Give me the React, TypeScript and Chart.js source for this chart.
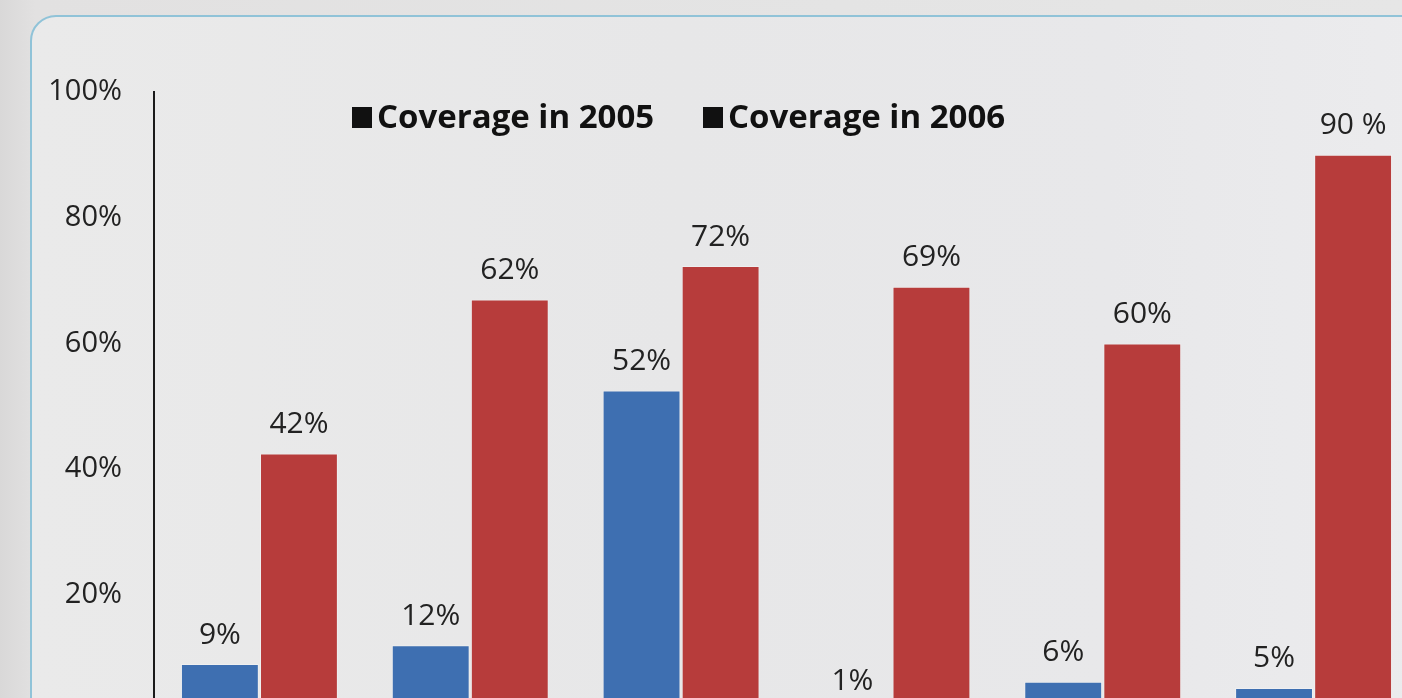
import React, { useEffect, useRef } from "react";
import { Chart, registerables } from "chart.js";

Chart.register(...registerables);

const categories = ["A", "B", "C", "D", "E", "F"];
const seriesNames = ["Coverage in 2005", "Coverage in 2006"];
const values2005 = [9, 12, 52.5, 1, 6.2, 5.2];
const values2006 = [42.5, 67, 72.3, 69, 60, 90];
const labels2005 = ["9%", "12%", "52%", "1%", "6%", "5%"];
const labels2006 = ["42%", "62%", "72%", "69%", "60%", "90 %"];
const yTicks = [0, 20, 40, 60, 80, 100];

const BLUE = "#3e6fb1";
const RED = "#b73c3b";
const TEXT = "#222222";

const legendPlugin = {
  id: "customLegend",
  afterDraw(chart: any) {
    const ctx = chart.ctx;
    ctx.save();
    ctx.font = "bold 33px 'Open Sans'";
    ctx.fillStyle = "#111111";
    ctx.textBaseline = "alphabetic";
    ctx.textAlign = "left";
    const starts = [352, 703];
    seriesNames.forEach((name, i) => {
      const x = starts[i];
      ctx.fillRect(x, 107, 20, 21);
      ctx.fillText(name, x + 25, 128);
    });
    ctx.restore();
  },
};

const valueLabelPlugin = {
  id: "valueLabels",
  afterDatasetsDraw(chart: any) {
    const ctx = chart.ctx;
    const texts = [labels2005, labels2006];
    ctx.save();
    ctx.font = "30px 'Open Sans'";
    ctx.fillStyle = TEXT;
    ctx.textAlign = "center";
    ctx.textBaseline = "middle";
    chart.data.datasets.forEach((ds: any, di: number) => {
      const meta = chart.getDatasetMeta(di);
      meta.data.forEach((el: any, i: number) => {
        const extra = ds.data[i] < 3 ? 4 : 0;
        ctx.fillText(texts[di][i], el.x, el.y - 29 - extra);
      });
    });
    ctx.restore();
  },
};

export default function App() {
  const ref = useRef<HTMLCanvasElement | null>(null);

  useEffect(() => {
    if (!ref.current) return;
    const chart = new Chart(ref.current, {
      type: "bar",
      data: {
        labels: categories,
        datasets: [
          {
            label: seriesNames[0],
            data: values2005,
            backgroundColor: BLUE,
            borderColor: "rgba(255,255,255,0.3)",
            borderWidth: 1,
            categoryPercentage: 0.75,
            barPercentage: 0.985,
          },
          {
            label: seriesNames[1],
            data: values2006,
            backgroundColor: RED,
            borderColor: "rgba(255,255,255,0.3)",
            borderWidth: 1,
            categoryPercentage: 0.75,
            barPercentage: 0.985,
          },
        ],
      },
      options: {
        responsive: false,
        animation: false,
        maintainAspectRatio: false,
        layout: { padding: { left: 0, right: 11, top: 92, bottom: 20 } },
        plugins: {
          legend: { display: false },
          tooltip: { enabled: false },
          title: { display: false },
        },
        scales: {
          x: { display: false },
          y: {
            min: 0,
            max: 100,
            afterFit: (s: any) => {
              s.width = 154;
            },
            afterBuildTicks: (s: any) => {
              s.ticks = yTicks.map((v) => ({ value: v }));
            },
            grid: { display: true, color: "transparent", drawTicks: false },
            border: { display: true, color: "#1a1a1a", width: 2 },
            ticks: {
              padding: 32,
              color: TEXT,
              font: { family: "'Open Sans'", size: 29 },
              callback: (v: any) => v + "%",
            },
          },
        },
      },
      plugins: [valueLabelPlugin, legendPlugin],
    });
    return () => chart.destroy();
  }, []);

  return (
    <div
      style={{
        position: "fixed",
        left: 0,
        top: 0,
        width: 1402,
        height: 698,
        overflow: "hidden",
        background: "linear-gradient(90deg, #d9d8d8 0%, #e2e1e1 2.5%, #e4e4e4 60%, #e6e6e6 100%)",
      }}
    >
      <div
        style={{
          position: "absolute",
          left: 30,
          top: 15,
          width: 1440,
          height: 800,
          boxSizing: "border-box",
          border: "2px solid #90c3d8",
          borderRadius: 26,
          background: "linear-gradient(90deg, #eaeaea 0%, #e7e7e8 45%, #e8e8ea 75%, #ececee 100%)",
        }}
      />
      <canvas
        ref={ref}
        width={1430}
        height={770}
        style={{ position: "absolute", left: 0, top: 0, width: 1430, height: 770 }}
      />
    </div>
  );
}
